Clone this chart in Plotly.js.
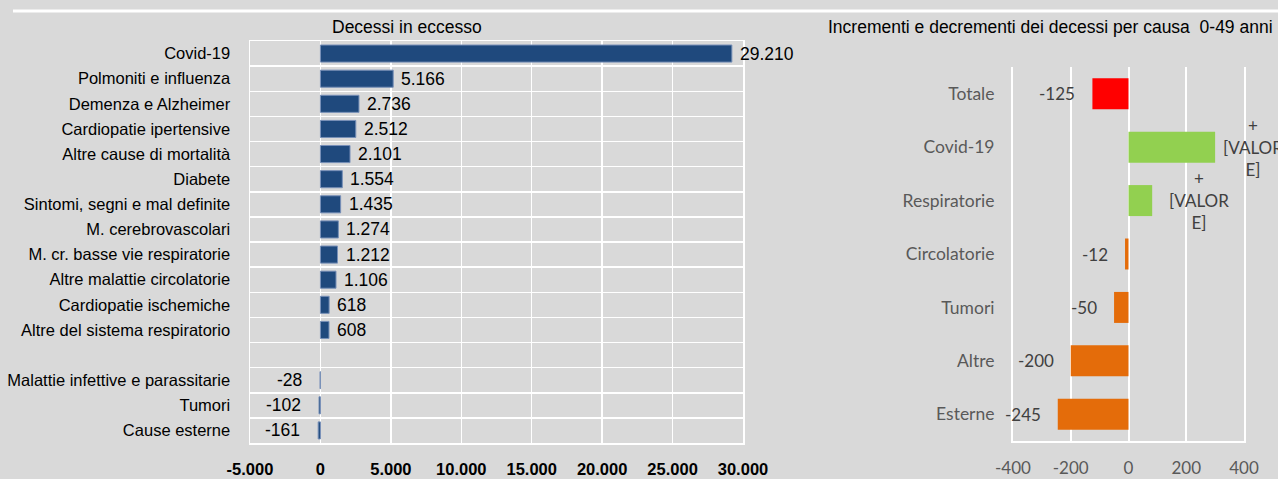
<!DOCTYPE html>
<html><head><meta charset="utf-8">
<script src="https://cdn.plot.ly/plotly-3.0.1.min.js"></script>
<style>html,body{margin:0;padding:0;background:#d9d9d9;} #chart{width:1278px;height:479px;}</style>
</head><body><div id="chart"></div>
<script>
// ---- Left chart data: Decessi in eccesso ----
const causeCategories = ['Covid-19','Polmoniti e influenza','Demenza e Alzheimer','Cardiopatie ipertensive','Altre cause di mortalità','Diabete','Sintomi, segni e mal definite','M. cerebrovascolari','M. cr. basse vie respiratorie','Altre malattie circolatorie','Cardiopatie ischemiche','Altre del sistema respiratorio',' ','Malattie infettive e parassitarie','Tumori','Cause esterne'];
const excessDeaths = [29210,5166,2736,2512,2101,1554,1435,1274,1212,1106,618,608,null,-28,-102,-161];
const excessTickVals = [-5000,0,5000,10000,15000,20000,25000,30000];
const excessTickText = ['-5.000','0','5.000','10.000','15.000','20.000','25.000','30.000'];

// ---- Right chart data: 0-49 anni ----
const groupCategories = ['Totale','Covid-19','Respiratorie','Circolatorie','Tumori','Altre','Esterne'];
const groupChange = [-125,300,82,-12,-50,-200,-245];
const groupTickVals = [-400,-200,0,200,400];
const groupTickText = ['-400','-200','0','200','400'];
const placeholderLabel = '+<br>[VALOR<br>E]';

const fmtIt = v => String(v).replace(/\B(?=(\d{3})+(?!\d))/g, '.');

const W = 1278, H = 479;
const LFONT = 'Liberation Sans, Arial, sans-serif';
const RFONT = 'Lato, Calibri, sans-serif';

const traces = [
  {
    type: 'bar', orientation: 'h',
    x: excessDeaths, y: causeCategories,
    xaxis: 'x', yaxis: 'y',
    width: 0.68,
    marker: {color: '#1f497d', line: {color: '#7890b8', width: 1}},
    hoverinfo: 'skip'
  },
  {
    type: 'bar', orientation: 'h',
    x: groupChange, y: groupCategories,
    xaxis: 'x2', yaxis: 'y2',
    width: 0.58,
    marker: {color: groupChange.map((v, i) => i === 0 ? '#ff0000' : (v > 0 ? '#92d050' : '#e46c0a'))},
    hoverinfo: 'skip'
  }
];

const annotations = [];
excessDeaths.forEach((v, i) => {
  if (v === null) return;
  annotations.push({
    x: v, y: causeCategories[i], xref: 'x', yref: 'y',
    text: fmtIt(v), showarrow: false,
    xanchor: v < 0 ? 'right' : 'left', xshift: v < 0 ? -16 : 6,
    yanchor: 'middle',
    font: {family: LFONT, size: 17.5, color: '#000'}
  });
});
groupChange.forEach((v, i) => {
  // labels near the plot's right edge are pulled in closer to their bar
  const nearEdge = v > 200;
  annotations.push({
    x: v, y: groupCategories[i], xref: 'x2', yref: 'y2',
    text: v < 0 ? String(v) : placeholderLabel, showarrow: false,
    xanchor: v < 0 ? 'right' : 'left', xshift: v < 0 ? -15 : (nearEdge ? 6 : 15),
    yanchor: 'middle', align: 'center',
    font: {family: RFONT, size: 17, color: '#404040'}
  });
});
annotations.push({
  text: 'Decessi in eccesso', xref: 'paper', yref: 'paper',
  x: 407 / W, y: 1 - 27 / H, xanchor: 'center', yanchor: 'middle', showarrow: false,
  font: {family: LFONT, size: 17.5, color: '#000'}
});
annotations.push({
  text: 'Incrementi e decrementi dei decessi per causa  0-49 anni', xref: 'paper', yref: 'paper',
  x: 1050 / W, y: 1 - 27 / H, xanchor: 'center', yanchor: 'middle', showarrow: false,
  font: {family: LFONT, size: 17.5, color: '#000'}
});

const layout = {
  width: W, height: H, autosize: false,
  margin: {l: 0, r: 0, t: 0, b: 0, pad: 0},
  paper_bgcolor: '#d9d9d9', plot_bgcolor: '#d9d9d9',
  showlegend: false, hovermode: false,
  xaxis: {
    domain: [250 / W, 743 / W], anchor: 'y',
    range: [-5000, 30000], tickmode: 'array', tickvals: excessTickVals, ticktext: excessTickText,
    showgrid: true, gridcolor: '#ffffff', gridwidth: 1.5,
    zeroline: true, zerolinecolor: '#ffffff', zerolinewidth: 1.5,
    showline: true, linecolor: '#ffffff', linewidth: 1.5, mirror: true,
    ticks: '', ticklabelstandoff: 11,
    tickfont: {family: LFONT, size: 16.5, color: '#000', weight: 'bold'},
    fixedrange: true
  },
  yaxis: {
    domain: [1 - 443 / H, 1 - 41 / H], anchor: 'x',
    type: 'category', categoryorder: 'array', categoryarray: causeCategories,
    autorange: 'reversed', tickson: 'boundaries',
    showgrid: true, gridcolor: '#ffffff', gridwidth: 1.5,
    showline: true, linecolor: '#ffffff', linewidth: 1.5, mirror: true,
    ticks: '', ticklabelstandoff: 15,
    tickfont: {family: LFONT, size: 16.5, color: '#000'},
    fixedrange: true
  },
  xaxis2: {
    domain: [1013 / W, 1244 / W], anchor: 'y2',
    range: [-400, 400], tickmode: 'array', tickvals: groupTickVals, ticktext: groupTickText,
    showgrid: true, gridcolor: '#ffffff', gridwidth: 2,
    zeroline: true, zerolinecolor: '#ffffff', zerolinewidth: 2,
    showline: true, linecolor: '#ffffff', linewidth: 2,
    ticks: '', ticklabelstandoff: 11,
    tickfont: {family: RFONT, size: 17, color: '#595959'},
    fixedrange: true
  },
  yaxis2: {
    domain: [1 - 441 / H, 1 - 67 / H], anchor: 'x2',
    type: 'category', categoryorder: 'array', categoryarray: groupCategories,
    autorange: 'reversed',
    showgrid: false, zeroline: false,
    showline: true, linecolor: '#ffffff', linewidth: 2, mirror: true,
    ticks: '', ticklabelstandoff: 13,
    tickfont: {family: RFONT, size: 17.5, color: '#595959'},
    fixedrange: true
  },
  shapes: [{
    type: 'line', xref: 'paper', yref: 'paper',
    x0: 13 / W, x1: 1, y0: 1 - 11 / H, y1: 1 - 11 / H,
    line: {color: '#ffffff', width: 3}
  }],
  annotations: annotations
};

Plotly.newPlot('chart', traces, layout, {staticPlot: true, displayModeBar: false});
</script>
</body></html>
